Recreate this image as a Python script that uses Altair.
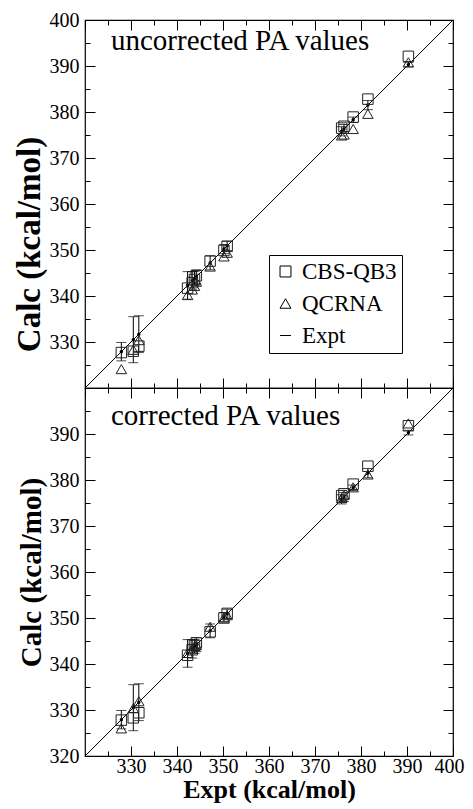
import altair as alt
import pandas as pd

FONT = "Liberation Serif"

# Experimental proton affinities (kcal/mol) and their uncertainties
expt = [327.9, 330.5, 331.7, 342.3, 343.3, 343.8, 344.2, 347.2, 350.2, 350.9,
        375.8, 376.3, 378.3, 381.5, 390.3]
expt_err = [2.0, 5.0, 4.0, 3.0, 2.0, 1.5, 1.5, 1.5, 1.0, 1.0,
            1.0, 1.0, 0.6, 1.0, 0.5]

# Calculated values, uncorrected
cbs_unc = [327.7, 328.0, 329.1, 341.7, 342.9, 343.6, 344.4, 347.6, 349.9, 350.8,
           376.5, 376.9, 378.9, 382.8, 392.1]
qcr_unc = [324.1, 328.3, 330.4, 340.2, 341.4, 342.2, 343.1, 346.4, 348.6, 349.4,
           374.9, 375.1, 376.3, 379.6, 390.8]
# Calculated values, corrected
cbs_cor = [327.8, 328.3, 329.4, 341.9, 343.1, 344.0, 344.6, 347.0, 350.0, 351.0,
           376.6, 377.0, 379.1, 383.0, 391.8]
qcr_cor = [326.0, 330.4, 331.9, 342.4, 343.4, 343.9, 344.1, 348.1, 350.1, 350.6,
           376.1, 376.8, 378.4, 381.2, 392.3]

methods = ["CBS-QB3", "QCRNA", "Expt"]
shapes = ["square", "triangle-up", "stroke"]
diag_vals = [320, 400]
major_all = [320, 330, 340, 350, 360, 370, 380, 390, 400]
ticks_no320 = [330, 340, 350, 360, 370, 380, 390, 400]
ticks_no400 = [320, 330, 340, 350, 360, 370, 380, 390]
minor_ticks = [325, 335, 345, 355, 365, 375, 385, 395]

W = H = 368
MAJ, MIN = 10, 5


def ax(orient, vals, size, labels=False, title=None, title_size=29, title_y=None):
    kw = dict(orient=orient, values=vals, tickSize=size, offset=-size,
              domain=False, grid=False, labels=labels, title=title,
              tickColor="black", tickWidth=1, minExtent=0)
    if labels:
        kw.update(labelFont=FONT, labelFontSize=20, labelColor="black",
                  labelOverlap=False)
        if orient == "left":
            kw.update(labelPadding=6, labelFlush=False)
        else:
            kw.update(labelPadding=0, labelFlush=True, labelFlushOffset=11)
    if title:
        kw.update(titleFont=FONT, titleFontWeight="bold", titleColor="black",
                  titleFontSize=title_size)
        if orient == "left":
            kw.update(titlePadding=3)
            if title_y is not None:
                kw.update(titleY=title_y)
        else:
            kw.update(titlePadding=0)
    return alt.Axis(**kw)


def panel(cbs, qcr, label, label_y, bottom, legend):
    n = len(expt)
    pts = pd.DataFrame({"expt": expt * 2, "calc": cbs + qcr,
                        "method": [methods[0]] * n + [methods[1]] * n})
    errs = pd.DataFrame({"expt": expt,
                         "lo": [e - d for e, d in zip(expt, expt_err)],
                         "hi": [e + d for e, d in zip(expt, expt_err)]})
    diag = pd.DataFrame({"v": diag_vals})
    txt = pd.DataFrame({"t": [label]})

    xs = alt.Scale(domain=[320, 400], nice=False, zero=False)
    ys = alt.Scale(domain=[320, 400], nice=False, zero=False)

    if bottom:
        x_axis = ax("bottom", ticks_no320, MAJ, labels=True, title="Expt (kcal/mol)",
                    title_size=26)
        y_axis = ax("left", ticks_no400, MAJ, labels=True, title="Calc (kcal/mol)",
                    title_size=29)
    else:
        x_axis = ax("bottom", major_all, MAJ)
        y_axis = ax("left", ticks_no320, MAJ, labels=True, title="Calc (kcal/mol)",
                    title_size=33, title_y=224)

    line = alt.Chart(diag).mark_line(color="black", strokeWidth=1).encode(
        x=alt.X("v:Q", scale=xs, axis=x_axis),
        y=alt.Y("v:Q", scale=ys, axis=y_axis),
    )
    rules = alt.Chart(errs).mark_rule(color="black", strokeWidth=1).encode(
        x=alt.X("expt:Q", scale=xs, axis=ax("bottom", minor_ticks, MIN)),
        y=alt.Y("lo:Q", scale=ys, axis=ax("left", minor_ticks, MIN)),
        y2="hi:Q",
    )
    cap_lo = alt.Chart(errs).mark_tick(color="black", orient="horizontal",
                                       size=10, thickness=1).encode(
        x=alt.X("expt:Q", scale=xs, axis=ax("top", major_all, MAJ)),
        y=alt.Y("lo:Q", scale=ys, axis=ax("right", major_all, MAJ)),
    )
    cap_hi = alt.Chart(errs).mark_tick(color="black", orient="horizontal",
                                       size=10, thickness=1).encode(
        x=alt.X("expt:Q", scale=xs, axis=ax("top", minor_ticks, MIN)),
        y=alt.Y("hi:Q", scale=ys, axis=ax("right", minor_ticks, MIN)),
    )
    dots = alt.Chart(errs).mark_circle(color="black", size=12, opacity=1).encode(
        x=alt.X("expt:Q", scale=xs, axis=None),
        y=alt.Y("expt:Q", scale=ys, axis=None),
    )
    if legend:
        leg = alt.Legend(title=None, orient="none", legendX=184, legendY=235,
                         strokeColor="black", fillColor="white", padding=5,
                         symbolOffset=0, labelFont=FONT, labelFontSize=23,
                         labelColor="black", labelOffset=5, rowPadding=8,
                         symbolSize=120, symbolStrokeColor="black",
                         symbolStrokeWidth=1)
    else:
        leg = None
    points = alt.Chart(pts).mark_point(filled=False, size=110, strokeWidth=1,
                                       color="#222", opacity=1).encode(
        x=alt.X("expt:Q", scale=xs, axis=None),
        y=alt.Y("calc:Q", scale=ys, axis=None),
        shape=alt.Shape("method:N",
                        scale=alt.Scale(domain=methods, range=shapes),
                        legend=leg),
    )
    text = alt.Chart(txt).mark_text(align="left", baseline="alphabetic",
                                    font=FONT, fontSize=29, color="black").encode(
        x=alt.value(26), y=alt.value(label_y), text="t:N")

    return alt.layer(line, rules, cap_lo, cap_hi, dots, points, text).resolve_axis(
        x="independent", y="independent").properties(width=W, height=H)


top = panel(cbs_unc, qcr_unc, "uncorrected PA values", 30, bottom=False, legend=True)
bot = panel(cbs_cor, qcr_cor, "corrected PA values", 37, bottom=True, legend=False)

chart = alt.vconcat(top, bot, spacing=0, bounds="flush").resolve_scale(
    shape="independent").resolve_legend(shape="independent").properties(
    padding={"left": 4, "top": 1, "right": 0, "bottom": 0}
).configure_view(stroke="black", strokeWidth=1.2)

chart.save("out.html", embed_options={"renderer": "svg", "actions": False})
